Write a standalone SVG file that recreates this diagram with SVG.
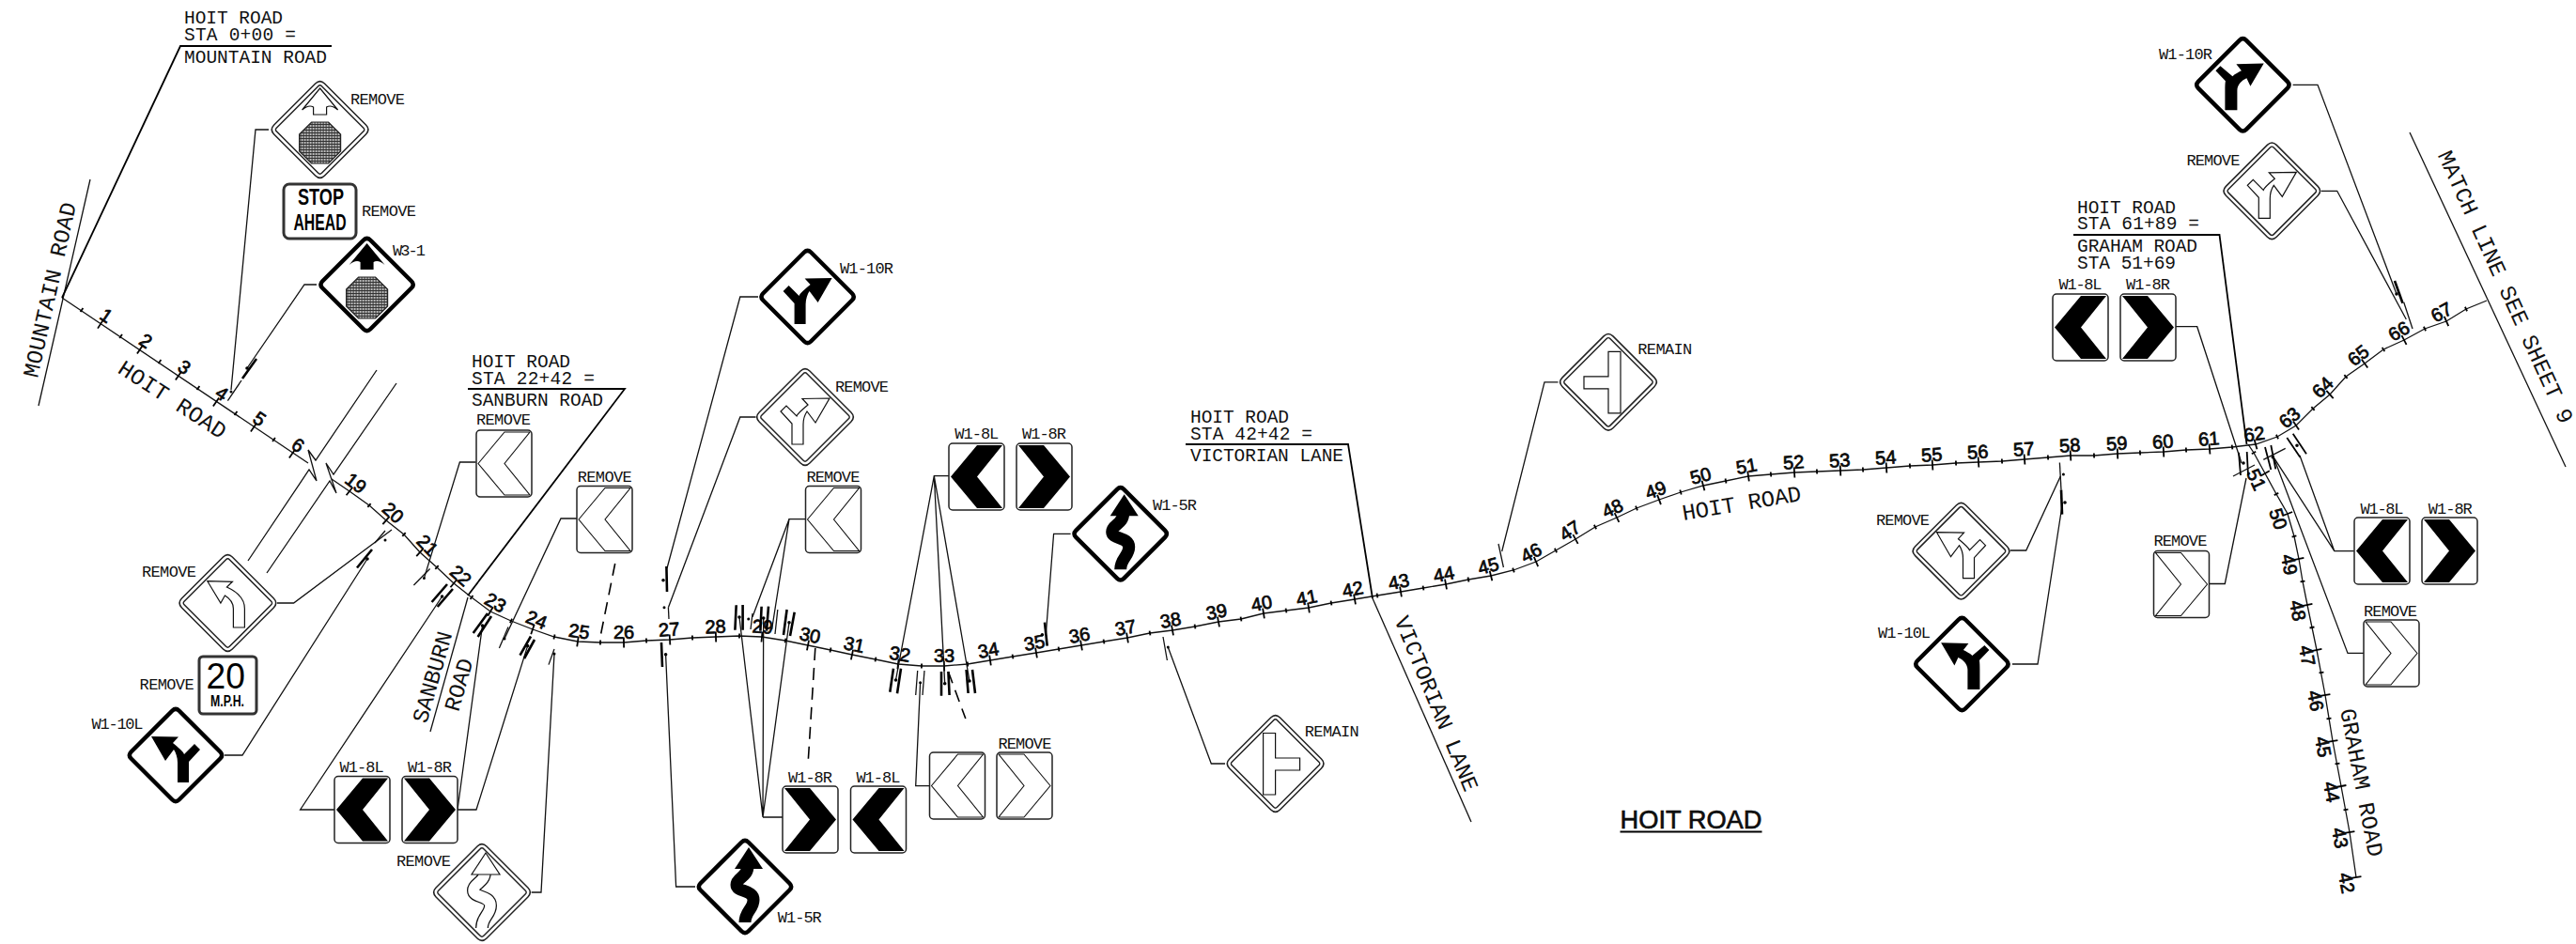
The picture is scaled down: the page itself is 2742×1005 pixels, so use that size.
<svg xmlns="http://www.w3.org/2000/svg" width="2742" height="1005" viewBox="0 0 2742 1005">
<style>
text{fill:#111}
.lb{font:17px "Liberation Mono","DejaVu Sans Mono",monospace}
.an{font:19.5px "Liberation Mono","DejaVu Sans Mono",monospace}
.rl{font:24px "Liberation Mono","DejaVu Sans Mono",monospace}
.st text,.st{font:20px "Liberation Sans",Arial,sans-serif;stroke:#000;stroke-width:.7;text-anchor:middle}
.sb{font:bold 23px "Liberation Sans",Arial,sans-serif;fill:#000}
.ln{fill:none;stroke:#111;stroke-width:1.3}
.hv{fill:none;stroke:#000;stroke-width:1.8}
.pt{fill:none;stroke:#000;stroke-width:2.6}
.ds{fill:none;stroke:#000;stroke-width:1.6;stroke-dasharray:13 8}
.dot{fill:#000}
.tk{fill:none;stroke:none;marker-start:url(#mt);marker-mid:url(#mt);marker-end:url(#mt)}
.hk{fill:none;stroke:none;marker-start:url(#mh);marker-mid:url(#mh);marker-end:url(#mh)}
.wf{fill:#fff;stroke:#111;stroke-width:1.2;stroke-linejoin:miter}
</style>
<defs>
<marker id="mt" markerUnits="userSpaceOnUse" markerWidth="3" markerHeight="12" refX="1.5" refY="6" orient="auto"><path d="M1.500 .5V11.500" stroke="#000" stroke-width="1.800"/></marker>
<marker id="mh" markerUnits="userSpaceOnUse" markerWidth="3" markerHeight="6" refX="1.5" refY="3" orient="auto"><path d="M1.500 .5V5.500" stroke="#000" stroke-width="1.800"/></marker>
<pattern id="mesh" width="3" height="3" patternUnits="userSpaceOnUse"><rect width="3" height="3" fill="#bbb"/><path d="M0 .5H3M.5 0V3" stroke="#333" stroke-width="1"/></pattern>
<path id="dp" d="M-3.5 -47.5Q0 -51 3.5 -47.5L47.5 -3.5Q51 0 47.5 3.5L3.5 47.5Q0 51 -3.5 47.5L-47.5 3.5Q-51 0 -47.5 -3.5Z"/>
<g id="dB"><use href="#dp" fill="#fff" stroke="#000" stroke-width="4.500"/></g>
<g id="dR"><use href="#dp" fill="#fff" stroke="#222" stroke-width="5.500"/><use href="#dp" fill="none" stroke="#fff" stroke-width="2.500"/></g>
<path id="yarrow" d="M-26 -20L3 -19.5L-3 -13C3 -8 8 -4 9 -1L20 -12L26 -6L14 7V29H2V8C2 2 0 -3 -2 -6L-11 6Z"/>
<path id="carrow" d="M22.3 -22.7L-7 -22L-1.5 -15C-5 -13 -8 -12 -11 -9L-24 -20L-29 -15L-18.5 -4C-19 -1 -19 2 -19 6V27H-6V6C-6 0 -1 -5 4 -7L8 1.5Z"/>
<path id="stoparrow" d="M0 -44L19 -21Q12 -27 7 -24V-16H-7V-24Q-12 -27 -19 -21Z"/>
<polygon id="octa" points="-9,-8 9,-8 22,5 22,23 9,36 -9,36 -22,23 -22,5" fill="url(#mesh)" stroke="#222" stroke-width="1.2"/>
<path id="wind" d="M3 -22C3 -10 -9 -10 -9 -2C-9 6 9 3 9 14C9 24 0 26 0 38"/>
<polygon id="windhead" points="4,-42 19,-19 -11,-19"/>
<path id="tee" d="M0 -32.5H13V33H0V7H-26V-6H0Z"/>
<rect id="rc" width="59" height="71" rx="4" fill="#fff" stroke="#222" stroke-width="1.5"/>
<polygon id="chL" points="2,35.5 30,2 57,2 30,35.5 57,69 30,69"/>
<polygon id="chR" points="57,35.5 29,2 2,2 29,35.5 2,69 29,69"/>
<g id="sLb"><use href="#rc"/><use href="#chL" fill="#000"/></g>
<g id="sRb"><use href="#rc"/><use href="#chR" fill="#000"/></g>
<g id="sLo"><use href="#rc"/><use href="#chL" fill="#fff" stroke="#111" stroke-width="1.1"/></g>
<g id="sRo"><use href="#rc"/><use href="#chR" fill="#fff" stroke="#111" stroke-width="1.1"/></g>
</defs>
<rect width="2742" height="1005" fill="#fff"/>

<g id="roads">
<path class="ln" d="M66 317L328 493"/>
<path class="ln" d="M353 510L372 523 393 538 411 554 430 569 447 588 465 604 483 621 502 636 522 651 544 661 567 670 590 678 615 683 639 684 664 684 688 682 713 681 737 679 762 678 787 677 811 678 836 682 860 687 884 692 907 697 932 702 956 707 981 709 1005 709 1030 707 1054 703 1078 699 1103 695 1127 691 1151 687 1175 683 1200 679 1224 674 1248 671 1272 667 1297 662 1321 659 1345 653 1369 650 1393 647 1417 642 1442 638 1466 634 1491 630 1515 626 1539 622 1563 617 1587 613 1611 607 1635 598 1656 586 1677 574 1698 561 1721 551 1742 541 1766 532 1789 524 1813 517 1837 512 1861 507 1885 505 1910 503 1934 502 1959 501 1983 500 2008 498 2033 496 2057 495 2082 493 2106 492 2131 491 2155 489 2180 487 2204 485 2229 485 2254 483 2278 482 2303 481 2327 479 2352 478 2376 476 2401 473 2424 465 2444 453 2462 435 2480 420 2497 401 2517 387 2537 372 2559 362 2581 350 2604 342 2625 329 2647 320"/>
<path class="ln" d="M2393 473L2399 482 2411 504 2423 526 2435 547 2442 571 2447 595 2451 619 2456 644 2466 692 2475 740 2483 789 2492 837 2501 886 2508 934"/>
<path class="tk" d="M107 345L149 372 190 400 230 428 270 455 311 483"/>
<path class="hk" d="M87 330L128.600 358 170 385 211 413 251 440 291.500 468"/>
<path class="tk" d="M372 523L411 554 447 588 483 621 522 651 567 670 615 683 664 684 713 681 762 678 811 678 860 687 907 697 956 707 1005 709 1054 703 1103 695 1151 687 1200 679 1248 671 1297 662 1345 653 1393 647 1442 638 1491 630 1539 622 1587 613 1635 598 1677 574 1721 551 1766 532 1813 517 1861 507 1910 503 1959 501 2008 498 2057 495 2106 492 2155 489 2204 485 2254 483 2303 481 2352 478 2401 473 2444 453 2480 420 2517 387 2559 362 2604 342"/>
<path class="hk" d="M393 538L430 569 465 604 502 636 544 661 590 678 639 684 688 682 737 679 787 677 836 682 884 692 932 702 981 709 1030 707 1078 699 1127 691 1175 683 1224 674 1272 667 1321 659 1369 650 1417 642 1466 634 1515 626 1563 617 1611 607 1656 586 1698 561 1742 541 1789 524 1837 512 1885 505 1934 502 1983 500 2033 496 2082 493 2131 491 2180 487 2229 485 2278 482 2327 479 2376 476 2424 465 2462 435 2497 401 2537 372 2581 350 2625 329"/>
<path class="tk" d="M2411 504L2435 547 2447 595 2456 644 2466 692 2475 740 2483 789 2492 837 2501 886 2508 934"/>
<path class="hk" d="M2399 482L2423 526 2442 571 2451 619 2461 668 2471 716 2479 765 2488 813 2497 862"/>
<path class="ln" d="M401 394L336 490 328 479 337 512 329 500 264 597"/>
<path class="ln" d="M422 408L355 505 347 493 358 525 351 512 284 610"/>
<path class="ln" d="M96 191L41 432"/>
<path class="ln" d="M498 636L458 779"/>
<path class="ln" d="M1461 637L1566 875"/>
<path class="ln" d="M2565 141L2731 497"/>
<path class="hv" d="M353 49H192L66 317"/>
<path class="hv" d="M498 414H665L498 634"/>
<path class="hv" d="M1262 473H1435L1461 637"/>
<path class="hv" d="M2207 250H2362.500L2391.500 473"/>
</g>

<g id="road-labels">
<text class="an" x="196" y="25" textLength="105">HOIT ROAD</text>
<text class="an" x="196" y="43" textLength="119">STA 0+00 =</text>
<text class="an" x="196" y="67" textLength="152">MOUNTAIN ROAD</text>
<text class="an" x="502" y="391" textLength="105">HOIT ROAD</text>
<text class="an" x="502" y="409" textLength="131">STA 22+42 =</text>
<text class="an" x="502" y="432" textLength="140">SANBURN ROAD</text>
<text class="an" x="1267" y="450" textLength="105">HOIT ROAD</text>
<text class="an" x="1267" y="467.500" textLength="130">STA 42+42 =</text>
<text class="an" x="1267" y="491" textLength="163">VICTORIAN LANE</text>
<text class="an" x="2211" y="226.700" textLength="105">HOIT ROAD</text>
<text class="an" x="2211" y="244.300" textLength="130">STA 61+89 =</text>
<text class="an" x="2211" y="268" textLength="128">GRAHAM ROAD</text>
<text class="an" x="2211" y="286" textLength="105">STA 51+69</text>
<text class="rl" transform="translate(40 403) rotate(-77.500)" textLength="190">MOUNTAIN ROAD</text>
<text class="rl" transform="translate(124 396) rotate(33)" textLength="132">HOIT ROAD</text>
<text class="rl" transform="translate(454 771) rotate(-74)" textLength="100">SANBURN</text>
<text class="rl" transform="translate(488 758.500) rotate(-74)" textLength="57">ROAD</text>
<text class="rl" transform="translate(1484 660) rotate(67.700)" textLength="199">VICTORIAN LANE</text>
<text class="rl" transform="translate(1792 554) rotate(-9.500)" textLength="128">HOIT ROAD</text>
<text class="rl" transform="translate(2491 756) rotate(79)" textLength="160">GRAHAM ROAD</text>
<text class="rl" transform="translate(2594.500 165) rotate(65.500)" textLength="316">MATCH LINE SEE SHEET 9</text>
<text x="1724.500" y="882" textLength="151" lengthAdjust="spacingAndGlyphs" style="font:28px 'Liberation Sans',Arial,sans-serif;stroke:#000;stroke-width:.6">HOIT ROAD</text>
<path d="M1724.500 885.500H1875.500" stroke="#000" stroke-width="1.800"/>
</g>

<g id="stations" class="st">
<text transform="translate(107 345) rotate(34)" y="-4">1</text>
<text transform="translate(149 372) rotate(34)" y="-4">2</text>
<text transform="translate(190 400) rotate(34)" y="-4">3</text>
<text transform="translate(230 428) rotate(34)" y="-4">4</text>
<text transform="translate(270 455) rotate(34)" y="-4">5</text>
<text transform="translate(311 483) rotate(34)" y="-4">6</text>
<text transform="translate(372 523) rotate(38)" y="-4">19</text>
<text transform="translate(411 554) rotate(42)" y="-4">20</text>
<text transform="translate(447 588) rotate(46)" y="-4">21</text>
<text transform="translate(483 621) rotate(42)" y="-4">22</text>
<text transform="translate(522 651) rotate(30)" y="-4">23</text>
<text transform="translate(567 670) rotate(22)" y="-4">24</text>
<text transform="translate(615 683) rotate(8)" y="-4">25</text>
<text transform="translate(664 684)" y="-4">26</text>
<text transform="translate(713 681) rotate(-4)" y="-4">27</text>
<text transform="translate(762 678) rotate(-2)" y="-4">28</text>
<text transform="translate(811 678) rotate(4)" y="-4">29</text>
<text transform="translate(860 687) rotate(12)" y="-4">30</text>
<text transform="translate(907 697) rotate(12)" y="-4">31</text>
<text transform="translate(956 707) rotate(10)" y="-4">32</text>
<text transform="translate(1005 709)" y="-4">33</text>
<text transform="translate(1054 703) rotate(-10)" y="-4">34</text>
<text transform="translate(1103 695) rotate(-10)" y="-4">35</text>
<text transform="translate(1151 687) rotate(-10)" y="-4">36</text>
<text transform="translate(1200 679) rotate(-10)" y="-4">37</text>
<text transform="translate(1248 671) rotate(-10)" y="-4">38</text>
<text transform="translate(1297 662) rotate(-11)" y="-4">39</text>
<text transform="translate(1345 653) rotate(-11)" y="-4">40</text>
<text transform="translate(1393 647) rotate(-11)" y="-4">41</text>
<text transform="translate(1442 638) rotate(-11)" y="-4">42</text>
<text transform="translate(1491 630) rotate(-11)" y="-4">43</text>
<text transform="translate(1539 622) rotate(-11)" y="-4">44</text>
<text transform="translate(1587 613) rotate(-15)" y="-4">45</text>
<text transform="translate(1635 598) rotate(-28)" y="-4">46</text>
<text transform="translate(1677 574) rotate(-33)" y="-4">47</text>
<text transform="translate(1721 551) rotate(-25)" y="-4">48</text>
<text transform="translate(1766 532) rotate(-20)" y="-4">49</text>
<text transform="translate(1813 517) rotate(-15)" y="-4">50</text>
<text transform="translate(1861 507) rotate(-10)" y="-4">51</text>
<text transform="translate(1910 503) rotate(-4)" y="-4">52</text>
<text transform="translate(1959 501) rotate(-4)" y="-4">53</text>
<text transform="translate(2008 498) rotate(-4)" y="-4">54</text>
<text transform="translate(2057 495) rotate(-4)" y="-4">55</text>
<text transform="translate(2106 492) rotate(-4)" y="-4">56</text>
<text transform="translate(2155 489) rotate(-4)" y="-4">57</text>
<text transform="translate(2204 485) rotate(-4)" y="-4">58</text>
<text transform="translate(2254 483) rotate(-4)" y="-4">59</text>
<text transform="translate(2303 481) rotate(-4)" y="-4">60</text>
<text transform="translate(2352 478) rotate(-4)" y="-4">61</text>
<text transform="translate(2401 473) rotate(-8)" y="-4">62</text>
<text transform="translate(2444 453) rotate(-40)" y="-4">63</text>
<text transform="translate(2480 420) rotate(-45)" y="-4">64</text>
<text transform="translate(2517 387) rotate(-38)" y="-4">65</text>
<text transform="translate(2559 362) rotate(-30)" y="-4">66</text>
<text transform="translate(2604 342) rotate(-28)" y="-4">67</text>
<text transform="translate(2411 504) rotate(65)" x="2" y="18">51</text>
<text transform="translate(2435 547) rotate(72)" x="2" y="18">50</text>
<text transform="translate(2447 595) rotate(79)" x="4" y="18">49</text>
<text transform="translate(2456 644) rotate(79)" x="4" y="18">48</text>
<text transform="translate(2466 692) rotate(79)" x="4" y="18">47</text>
<text transform="translate(2475 740) rotate(79)" x="4" y="18">46</text>
<text transform="translate(2483 789) rotate(79)" x="4" y="18">45</text>
<text transform="translate(2492 837) rotate(79)" x="4" y="18">44</text>
<text transform="translate(2501 886) rotate(79)" x="4" y="18">43</text>
<text transform="translate(2508 934) rotate(79)" x="4" y="18">42</text>
</g>

<g id="connectors">
<path class="ln" d="M286 138H272L246 415"/>
<path class="ln" d="M337 303H324L263 392"/>
<path class="ln" d="M295 642H312.600L417 564"/>
<path class="ln" d="M239 804H258L391 595"/>
<path class="ln" d="M356 862H319.600L470.600 635"/>
<path class="ln" d="M561.600 687.600L507 862H487L513.500 666"/>
<path class="ln" d="M506.500 492H489.400L451.400 615.600"/>
<path class="ln" d="M614 552H597L537 680"/>
<path class="ln" d="M565.700 950H576L590 696"/>
<path class="ln" d="M708.600 696.700L719.600 944H740"/>
<path class="ln" d="M807 316H787.800L710 605"/>
<path class="ln" d="M804.500 444H787.800L711.400 646.700"/>
<path class="ln" d="M857.600 552.700H840L801 656.700M840 552.700L821.600 670"/>
<path class="ln" d="M787 657L812 870L812.700 658M812 870L840 662.700M812 870H833"/>
<path class="ln" d="M989.400 836.700H974.700L979.600 726.700"/>
<path class="ln" d="M953.500 724L994.300 506.700H1010M994.300 506.700L1005.700 727.700M994.300 506.700L1032 725"/>
<path class="ln" d="M1139.600 568.300H1121.600L1113.500 673"/>
<path class="ln" d="M1304 813H1289.300L1243.300 689"/>
<path class="ln" d="M1658.500 406.800H1644L1598.700 587"/>
<path class="ln" d="M2139.700 586H2156.700L2193.300 507"/>
<path class="ln" d="M2142 707H2169L2195.500 535"/>
<path class="ln" d="M2351 621.500H2368.300L2391 509"/>
<path class="ln" d="M2316 347.700H2338.700L2386 493"/>
<path class="ln" d="M2505.800 586.700H2484.800L2420 486.700M2484.800 586.700L2448 485"/>
<path class="ln" d="M2516 695.400H2499L2421 489"/>
<path class="ln" d="M2440.600 90.300H2467L2551 313"/>
<path class="ln" d="M2470.800 203.300H2487.700L2561.300 340"/>
<path class="ds" d="M654.700 600L638.400 681"/>
<path class="ds" d="M867.800 690L860.400 808"/>
<path class="ds" d="M1009.400 715L1027.800 765"/>
</g>

<g id="sign-posts">
<path class="pt" d="M273 382L258 403"/>
<path class="ln" d="M257 405L242.400 426.700"/>
<path class="ln" d="M410 565L399 578"/>
<path class="pt" d="M396 585L380 604.500"/>
<path class="ln" d="M457.600 605.500L440.400 623"/>
<path class="pt" d="M476 622L459.600 641M482 627L465.700 646"/>
<path class="pt" d="M519 653L503.700 674M523 656L508.600 678"/>
<path class="ln" d="M541 667.500L531.400 690"/>
<path class="pt" d="M565 677.500L553.500 697.600M569 681L558 701"/>
<path class="ln" d="M590 691L584 707.600"/>
<path class="pt" d="M704 684L705 710M709.400 603L710 630"/>
<path class="ln" d="M711.400 646.700L712 659"/>
<path class="pt" d="M783.700 644.300L782.400 670.700M790.600 644L790.600 670.700M810.600 645.700L809.400 671.700M818 645.700L816 671.700M837.600 649L834 676M845.700 651.700L841 677"/>
<path class="ln" d="M801 653L799 670M827.800 649L825 675"/>
<path class="pt" d="M951 711.700L947.300 736.700M959 711.700L955 738.300M1002 715L1002 740.700M1009.400 715L1010.600 740M1028.600 713L1030.600 738M1035 713L1038 738"/>
<path class="ln" d="M976.700 714L974.700 740M984 714L982 740"/>
<path class="pt" d="M1112 662.700L1114.700 687.700"/>
<path class="ln" d="M1238 678L1242.400 703M1595 579L1600.400 604"/>
<path class="ln" d="M2192.400 492.500L2194 521.500"/>
<path class="pt" d="M2194 521.500L2195 547.600"/>
<path class="hv" d="M2383 481.700L2385 506M2391.700 481L2393 506M2411 476L2417.300 500M2417.300 474L2422.300 499.300M2434.300 466L2448.300 486.700M2440.700 461.700L2455 483.300"/>
<path class="ln" d="M2377 507L2400 495M2409.300 489.300L2432.700 477.300"/>
<path class="pt" d="M2549 299L2557.500 322.700"/>
<path class="ln" d="M2558.700 321.700L2568 350"/>
<path class="dot" d="M263 392m-1.800 0a1.800 1.800 0 1 0 3.600 0a1.800 1.800 0 1 0 -3.600 0M246 417m-1.500 0a1.500 1.500 0 1 0 3 0a1.500 1.500 0 1 0 -3 0M410 575m-1.500 0a1.500 1.500 0 1 0 3 0a1.500 1.500 0 1 0 -3 0M391 595m-1.800 0a1.800 1.800 0 1 0 3.600 0a1.800 1.800 0 1 0 -3.600 0M451.400 615.600m-1.500 0a1.500 1.500 0 1 0 3 0a1.500 1.500 0 1 0 -3 0M470.600 635m-1.800 0a1.800 1.800 0 1 0 3.600 0a1.800 1.800 0 1 0 -3.600 0M513.500 666m-1.800 0a1.800 1.800 0 1 0 3.600 0a1.800 1.800 0 1 0 -3.600 0M537 680m-1.500 0a1.500 1.500 0 1 0 3 0a1.500 1.500 0 1 0 -3 0M561.600 687.600m-1.800 0a1.800 1.800 0 1 0 3.600 0a1.800 1.800 0 1 0 -3.600 0M590 696m-1.500 0a1.500 1.500 0 1 0 3 0a1.500 1.500 0 1 0 -3 0M708.600 696.700m-1.800 0a1.800 1.800 0 1 0 3.600 0a1.800 1.800 0 1 0 -3.600 0M706 617.700m-1.800 0a1.800 1.800 0 1 0 3.600 0a1.800 1.800 0 1 0 -3.600 0M707 646.700m-1.500 0a1.500 1.500 0 1 0 3 0a1.500 1.500 0 1 0 -3 0M787 657m-1.800 0a1.800 1.800 0 1 0 3.600 0a1.800 1.800 0 1 0 -3.600 0M796.700 659m-1.500 0a1.500 1.500 0 1 0 3 0a1.500 1.500 0 1 0 -3 0M812.700 658m-1.800 0a1.800 1.800 0 1 0 3.600 0a1.800 1.800 0 1 0 -3.600 0M840 662.700m-1.800 0a1.800 1.800 0 1 0 3.600 0a1.800 1.800 0 1 0 -3.600 0M953.500 724m-1.800 0a1.800 1.800 0 1 0 3.600 0a1.800 1.800 0 1 0 -3.600 0M979.600 726.700m-1.500 0a1.500 1.500 0 1 0 3 0a1.500 1.500 0 1 0 -3 0M1005.700 727.700m-1.800 0a1.800 1.800 0 1 0 3.600 0a1.800 1.800 0 1 0 -3.600 0M1032 725m-1.800 0a1.800 1.800 0 1 0 3.600 0a1.800 1.800 0 1 0 -3.600 0M1109.400 675.700m-1.800 0a1.800 1.800 0 1 0 3.600 0a1.800 1.800 0 1 0 -3.600 0M1243.300 689m-1.500 0a1.500 1.500 0 1 0 3 0a1.500 1.500 0 1 0 -3 0M2196.400 505m-1.500 0a1.500 1.500 0 1 0 3 0a1.500 1.500 0 1 0 -3 0M2198 535m-1.800 0a1.800 1.800 0 1 0 3.600 0a1.800 1.800 0 1 0 -3.600 0M2388 493m-1.800 0a1.800 1.800 0 1 0 3.600 0a1.800 1.800 0 1 0 -3.600 0M2419.300 486.700m-1.800 0a1.800 1.800 0 1 0 3.600 0a1.800 1.800 0 1 0 -3.600 0M2445 474.300m-1.800 0a1.800 1.800 0 1 0 3.600 0a1.800 1.800 0 1 0 -3.600 0M2551 313m-1.800 0a1.800 1.800 0 1 0 3.600 0a1.800 1.800 0 1 0 -3.600 0"/>
</g>

<g id="sign-stop-ahead-remove">
<g transform="translate(340.600 138)"><use href="#dR"/><use href="#stoparrow" class="wf"/><use href="#octa"/></g>
<text class="lb" x="373" y="111" textLength="58">REMOVE</text>
</g>
<g id="sign-stop-ahead-plaque">
<rect x="302" y="196" width="77" height="58" rx="6" fill="#fff" stroke="#333" stroke-width="3"/>
<text class="sb" x="317" y="218" textLength="49" lengthAdjust="spacingAndGlyphs">STOP</text>
<text class="sb" x="312.500" y="245" textLength="56" lengthAdjust="spacingAndGlyphs">AHEAD</text>
<text class="lb" x="385" y="230" textLength="58">REMOVE</text>
</g>
<g id="sign-w3-1">
<g transform="translate(390.600 303)"><use href="#dB"/><use href="#stoparrow" fill="#000"/><use href="#octa"/></g>
<text class="lb" x="418" y="272" textLength="35">W3-1</text>
</g>
<g id="sign-curve-left-remove">
<g transform="translate(242.400 642)"><use href="#dR"/><path class="wf" d="M-21.600 -23.300L5 -22.700L-1 -17C10 -12 18 -4 18 6V26H6V6C6 -1 2 -5 -3 -8L-7.500 0Z"/></g>
<text class="lb" x="151" y="614" textLength="58">REMOVE</text>
</g>
<g id="sign-20-mph">
<rect x="212" y="699" width="61" height="61" rx="4" fill="#fff" stroke="#333" stroke-width="3"/>
<text x="219.600" y="733" textLength="41.400" lengthAdjust="spacingAndGlyphs" style="font:38px 'Liberation Sans',Arial,sans-serif;fill:#000">20</text>
<text x="224" y="752" textLength="36" lengthAdjust="spacingAndGlyphs" style="font:bold 16px 'Liberation Sans',Arial,sans-serif;fill:#000">M.P.H.</text>
<text class="lb" x="148.600" y="734" textLength="58">REMOVE</text>
</g>
<g id="sign-w1-10l-a">
<g transform="translate(187 804)"><use href="#dB"/><use href="#yarrow"/></g>
<text class="lb" x="97.500" y="776" textLength="55">W1-10L</text>
</g>
<g id="sign-w1-8l-a"><use href="#sLb" x="356" y="826.500"/><text class="lb" x="361.600" y="821.500" textLength="47">W1-8L</text></g>
<g id="sign-w1-8r-a"><use href="#sRb" x="428" y="826.500"/><text class="lb" x="434" y="821.500" textLength="47">W1-8R</text></g>
<g id="sign-chevron-remove-a"><use href="#sLo" x="507" y="458"/><text class="lb" x="507" y="452" textLength="58">REMOVE</text></g>
<g id="sign-chevron-remove-b"><use href="#sLo" x="614" y="517.500"/><text class="lb" x="614.700" y="513" textLength="58">REMOVE</text></g>
<g id="sign-winding-remove">
<g transform="translate(513 950)"><use href="#dR"/><use href="#wind" fill="none" stroke="#111" stroke-width="14"/><use href="#wind" fill="none" stroke="#fff" stroke-width="11.500"/><use href="#windhead" class="wf"/></g>
<text class="lb" x="422" y="922" textLength="58">REMOVE</text>
</g>
<g id="sign-w1-5r-a">
<g transform="translate(793 944)"><use href="#dB"/><use href="#wind" fill="none" stroke="#000" stroke-width="13"/><use href="#windhead" fill="#000"/></g>
<text class="lb" x="827.800" y="981.700" textLength="47">W1-5R</text>
</g>
<g id="sign-w1-10r-a">
<g transform="translate(859.600 316)"><use href="#dB"/><use href="#yarrow" transform="scale(-1 1)"/></g>
<text class="lb" x="894" y="290.700" textLength="57">W1-10R</text>
</g>
<g id="sign-y-right-remove-a">
<g transform="translate(857 444)"><use href="#dR"/><use href="#yarrow" class="wf" transform="scale(-1 1)"/></g>
<text class="lb" x="889" y="416.700" textLength="57">REMOVE</text>
</g>
<g id="sign-chevron-remove-c"><use href="#sLo" x="857.500" y="517.500"/><text class="lb" x="858.400" y="513" textLength="57">REMOVE</text></g>
<g id="sign-w1-8r-b"><use href="#sRb" x="833" y="837"/><text class="lb" x="839" y="832.700" textLength="47">W1-8R</text></g>
<g id="sign-w1-8l-b"><use href="#sLb" x="905.500" y="837"/><text class="lb" x="911.400" y="832.700" textLength="47">W1-8L</text></g>
<g id="sign-chevron-remove-d"><use href="#sLo" x="989.500" y="801"/></g>
<g id="sign-chevron-remove-e"><use href="#sRo" x="1061" y="801"/><text class="lb" x="1062.400" y="796.700" textLength="57">REMOVE</text></g>
<g id="sign-w1-8l-c"><use href="#sLb" x="1010" y="472"/><text class="lb" x="1016.300" y="466.700" textLength="47">W1-8L</text></g>
<g id="sign-w1-8r-c"><use href="#sRb" x="1082" y="472"/><text class="lb" x="1088" y="466.700" textLength="47">W1-8R</text></g>
<g id="sign-w1-5r-b">
<g transform="translate(1192.700 568.300)"><use href="#dB"/><use href="#wind" fill="none" stroke="#000" stroke-width="13"/><use href="#windhead" fill="#000"/></g>
<text class="lb" x="1227" y="542.700" textLength="47">W1-5R</text>
</g>
<g id="sign-remain-lower">
<g transform="translate(1357.600 813)"><use href="#dR"/><use href="#tee" class="wf" transform="scale(-1 1)"/></g>
<text class="lb" x="1388.800" y="783.600" textLength="58">REMAIN</text>
</g>
<g id="sign-remain-upper">
<g transform="translate(1712 406.800)"><use href="#dR"/><use href="#tee" class="wf"/></g>
<text class="lb" x="1743.300" y="377" textLength="58">REMAIN</text>
</g>
<g id="sign-y-left-remove">
<g transform="translate(2087.500 586.700)"><use href="#dR"/><use href="#yarrow" class="wf"/></g>
<text class="lb" x="1997" y="559" textLength="57">REMOVE</text>
</g>
<g id="sign-w1-10l-b">
<g transform="translate(2088.400 707)"><use href="#dB"/><use href="#carrow" transform="scale(-1 1)"/></g>
<text class="lb" x="1999" y="679" textLength="56">W1-10L</text>
</g>
<g id="sign-chevron-remove-f"><use href="#sRo" x="2292.500" y="586.500"/><text class="lb" x="2292.400" y="581" textLength="57">REMOVE</text></g>
<g id="sign-w1-8l-d"><use href="#sLb" x="2185" y="313"/><text class="lb" x="2191.500" y="308.300" textLength="46">W1-8L</text></g>
<g id="sign-w1-8r-d"><use href="#sRb" x="2257" y="313"/><text class="lb" x="2263" y="308.300" textLength="47">W1-8R</text></g>
<g id="sign-w1-8l-e"><use href="#sLb" x="2506" y="551"/><text class="lb" x="2512.500" y="547" textLength="46">W1-8L</text></g>
<g id="sign-w1-8r-e"><use href="#sRb" x="2578" y="551"/><text class="lb" x="2584.800" y="547" textLength="47">W1-8R</text></g>
<g id="sign-chevron-remove-g"><use href="#sRo" x="2516" y="660"/><text class="lb" x="2516" y="655.600" textLength="57">REMOVE</text></g>
<g id="sign-w1-10r-b">
<g transform="translate(2387.400 90.300)"><use href="#dB"/><use href="#carrow"/></g>
<text class="lb" x="2298" y="62.700" textLength="57">W1-10R</text>
</g>
<g id="sign-y-right-remove-b">
<g transform="translate(2418.300 203.300)"><use href="#dR"/><use href="#yarrow" class="wf" transform="scale(-1 1)"/></g>
<text class="lb" x="2327.400" y="175.700" textLength="57">REMOVE</text>
</g>
</svg>
